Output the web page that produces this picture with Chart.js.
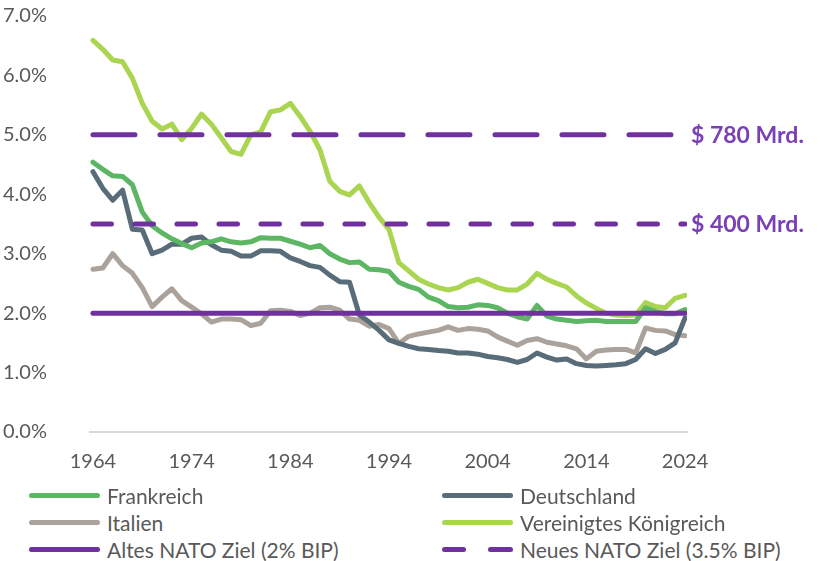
<!DOCTYPE html>
<html>
<head>
<meta charset="utf-8">
<script src="https://cdn.jsdelivr.net/npm/chart.js@4"></script>
<style>
  html, body { margin: 0; padding: 0; background: #fff; }
  #wrap { position: relative; width: 827px; height: 561px; overflow: hidden; font-family: Lato, "Open Sans", sans-serif; }
  #c { position: absolute; left: 0; top: 0; }
  .leg { position: absolute; height: 26px; display: flex; align-items: center; font-size: 21px; color: #595959; white-space: nowrap; }
  .smp { position: relative; width: 71px; height: 5px; margin-right: 7px; }
  .smp span { position: absolute; top: 0; height: 5px; border-radius: 3px; }
</style>
</head>
<body>
<div id="wrap">
  <canvas id="c" width="827" height="496"></canvas>
  <div id="legend"></div>
</div>
<script>
// Jahre (x-Achse)
const years = [1964, 1965, 1966, 1967, 1968, 1969, 1970, 1971, 1972, 1973,
  1974, 1975, 1976, 1977, 1978, 1979, 1980, 1981, 1982, 1983,
  1984, 1985, 1986, 1987, 1988, 1989, 1990, 1991, 1992, 1993,
  1994, 1995, 1996, 1997, 1998, 1999, 2000, 2001, 2002, 2003,
  2004, 2005, 2006, 2007, 2008, 2009, 2010, 2011, 2012, 2013,
  2014, 2015, 2016, 2017, 2018, 2019, 2020, 2021, 2022, 2023, 2024]
const xTicks = [1964, 1974, 1984, 1994, 2004, 2014, 2024]
const yTicks = [0, 1, 2, 3, 4, 5, 6, 7]

// Verteidigungsausgaben in % des BIP
const frankreich = [4.54, 4.42, 4.31, 4.30, 4.16, 3.70, 3.47, 3.35, 3.25, 3.17,
  3.10, 3.18, 3.20, 3.25, 3.20, 3.18, 3.20, 3.27, 3.26, 3.26,
  3.21, 3.16, 3.10, 3.14, 3.00, 2.91, 2.85, 2.86, 2.74, 2.73,
  2.70, 2.52, 2.45, 2.40, 2.27, 2.21, 2.11, 2.09, 2.10, 2.14,
  2.13, 2.09, 2.00, 1.94, 1.90, 2.13, 1.95, 1.90, 1.88, 1.86,
  1.87, 1.88, 1.86, 1.86, 1.86, 1.86, 2.09, 2.03, 1.99, 1.99, 2.06]
const deutschland = [4.38, 4.10, 3.90, 4.07, 3.41, 3.40, 3.00, 3.06, 3.16, 3.16,
  3.26, 3.28, 3.15, 3.06, 3.04, 2.96, 2.96, 3.05, 3.05, 3.04,
  2.93, 2.87, 2.80, 2.77, 2.64, 2.53, 2.52, 1.97, 1.85, 1.71,
  1.55, 1.49, 1.44, 1.40, 1.39, 1.37, 1.36, 1.33, 1.33, 1.31,
  1.27, 1.25, 1.22, 1.17, 1.22, 1.33, 1.26, 1.21, 1.23, 1.15,
  1.12, 1.11, 1.12, 1.13, 1.15, 1.22, 1.40, 1.32, 1.39, 1.50, 1.92]
const italien = [2.74, 2.76, 3.00, 2.80, 2.67, 2.43, 2.11, 2.27, 2.41, 2.21,
  2.10, 1.99, 1.85, 1.90, 1.90, 1.89, 1.79, 1.83, 2.04, 2.05,
  2.03, 1.96, 2.00, 2.09, 2.10, 2.05, 1.90, 1.88, 1.78, 1.81,
  1.74, 1.49, 1.61, 1.65, 1.68, 1.71, 1.77, 1.71, 1.74, 1.73,
  1.70, 1.60, 1.53, 1.46, 1.54, 1.57, 1.51, 1.48, 1.45, 1.40,
  1.23, 1.36, 1.38, 1.39, 1.39, 1.33, 1.75, 1.71, 1.70, 1.64, 1.62]
const vereinigtesKoenigreich = [6.59, 6.44, 6.26, 6.23, 5.95, 5.53, 5.23, 5.10, 5.18, 4.92,
  5.11, 5.35, 5.18, 4.95, 4.72, 4.67, 5.00, 5.05, 5.39, 5.42,
  5.53, 5.31, 5.06, 4.75, 4.22, 4.05, 3.99, 4.14, 3.86, 3.61,
  3.41, 2.85, 2.71, 2.57, 2.49, 2.43, 2.39, 2.43, 2.52, 2.57,
  2.50, 2.43, 2.39, 2.39, 2.49, 2.67, 2.57, 2.50, 2.44, 2.29,
  2.17, 2.08, 2.00, 1.97, 1.96, 1.97, 2.18, 2.11, 2.09, 2.25, 2.30]

// NATO Ziele (horizontale Linien)
const zielJahre = [1964, 2024]
const altesNatoZiel = [2, 2]
const neuesNatoZiel = [3.5, 3.5]
const neuesZielGesamt = [5, 5]
const zielLabels = ['$ 780 Mrd.', '$ 400 Mrd.']
const zielWerte = [5, 3.5]

const purple = '#7030A0'

// costruisco i punti {x, y} dagli array
function pts(xs, ys) { return xs.map((x, i) => ({ x: x, y: ys[i] })) }

function lineDs(label, data, color, extra) {
  return Object.assign({
    label: label, data: data, borderColor: color, backgroundColor: color,
    borderWidth: 5, pointRadius: 0, tension: 0, fill: false,
    borderJoinStyle: 'round', borderCapStyle: 'round', order: 1
  }, extra || {})
}

const datasets = [
  lineDs('Frankreich', pts(years, frankreich), '#5DB664'),
  lineDs('Deutschland', pts(years, deutschland), '#596C79'),
  lineDs('Italien', pts(years, italien), '#ABA39B'),
  lineDs('Vereinigtes Königreich', pts(years, vereinigtesKoenigreich), '#A9D551'),
  lineDs('Altes NATO Ziel (2% BIP)', pts(zielJahre, altesNatoZiel), purple, { order: 0 }),
  lineDs('Neues NATO Ziel (3.5% BIP)', pts(zielJahre, neuesNatoZiel), purple, { order: 0, borderDash: [18.5, 23.5] }),
  lineDs('5%', pts(zielJahre, neuesZielGesamt), purple, { order: 0, borderDash: [42, 25], hideLegend: true })
]

// etichette "$ xxx Mrd." a destra delle linee tratteggiate
const zielLabelPlugin = {
  id: 'zielLabels',
  afterDatasetsDraw(chart) {
    const ctx = chart.ctx
    const y = chart.scales.y
    ctx.save()
    ctx.font = 'bold 23px Lato, "Open Sans", sans-serif'
    ctx.fillStyle = '#7A40B5'
    ctx.textAlign = 'left'
    ctx.textBaseline = 'middle'
    zielWerte.forEach((v, i) => {
      ctx.fillText(zielLabels[i], chart.chartArea.right + 4, y.getPixelForValue(v) + 1)
    })
    ctx.restore()
  }
}

const chart = new Chart(document.getElementById('c'), {
  type: 'line',
  data: { datasets: datasets },
  options: {
    responsive: false,
    animation: false,
    layout: { padding: { top: 14, right: 140, bottom: 4, left: 3 } },
    plugins: { legend: { display: false }, tooltip: { enabled: false } },
    scales: {
      x: {
        type: 'linear', min: 1963.7, max: 2024.2,
        afterBuildTicks: (s) => { s.ticks = xTicks.map(v => ({ value: v })) },
        grid: { display: false, drawTicks: false },
        border: { display: true, color: '#D9D9D9', width: 2 },
        ticks: { color: '#595959', font: { family: 'Lato', size: 20 }, padding: 18, maxRotation: 0, callback: v => String(v) }
      },
      y: {
        min: 0, max: 7,
        afterBuildTicks: (s) => { s.ticks = yTicks.map(v => ({ value: v })) },
        afterFit: (s) => { s.width = 87 },
        grid: { display: false, drawTicks: false },
        border: { display: false },
        ticks: { color: '#595959', font: { family: 'Lato', size: 20 }, padding: 4, crossAlign: 'far', callback: v => v.toFixed(1) + '%' }
      }
    }
  },
  plugins: [zielLabelPlugin]
})

// legenda in due colonne
const legend = document.getElementById('legend')
const colX = [29, 442]
const rowY = [482, 509, 536]
datasets.filter(d => !d.hideLegend).forEach((d, i) => {
  const item = document.createElement('div')
  item.className = 'leg'
  item.style.left = colX[i % 2] + 'px'
  item.style.top = rowY[Math.floor(i / 2)] + 'px'
  const smp = document.createElement('div')
  smp.className = 'smp'
  const parts = d.borderDash ? [[0, 24], [46, 25]] : [[0, 71]]
  parts.forEach(p => {
    const s = document.createElement('span')
    s.style.left = p[0] + 'px'
    s.style.width = p[1] + 'px'
    s.style.background = d.borderColor
    smp.appendChild(s)
  })
  item.appendChild(smp)
  item.appendChild(document.createTextNode(d.label))
  legend.appendChild(item)
})
</script>
</body>
</html>
